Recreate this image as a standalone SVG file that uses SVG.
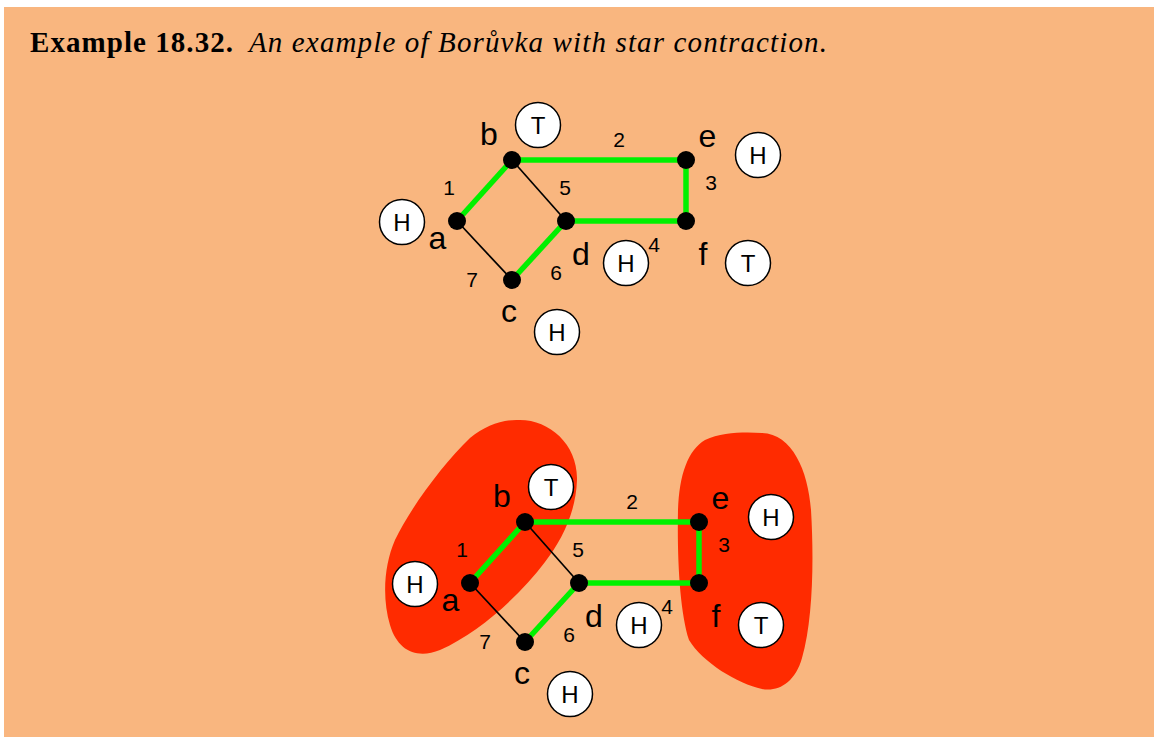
<svg xmlns="http://www.w3.org/2000/svg" width="1154" height="737" viewBox="0 0 1154 737">
<style>
.bg{fill:#f9b67f}
.title{font-family:"Liberation Serif","Times New Roman",serif;font-size:29px;fill:#000}
.green{stroke:#00f000;stroke-width:5.5;stroke-linecap:butt;fill:none}
.black{stroke:#000;stroke-width:1.7;fill:none}
.dot{fill:#000}
.nl{font-family:"Liberation Sans",Arial,sans-serif;font-size:32px;fill:#000;text-anchor:middle}
.el{font-family:"Liberation Sans",Arial,sans-serif;font-size:21px;fill:#000;text-anchor:middle}
.tag{fill:#fff;stroke:#000;stroke-width:1.5}
.tt{font-family:"Liberation Sans",Arial,sans-serif;font-size:24px;fill:#000;text-anchor:middle}
.blob{fill:#ff2b00}
</style>
<defs>
<g id="graph">
<g id="connectors">
<line class="green" x1="457" y1="221" x2="512" y2="160"/>
<line class="green" x1="512" y1="160" x2="686" y2="160"/>
<line class="green" x1="686" y1="160" x2="686" y2="221"/>
<line class="green" x1="566" y1="221" x2="686" y2="221"/>
<line class="green" x1="512" y1="280" x2="566" y2="221"/>
<line class="black" x1="512" y1="160" x2="566" y2="221"/>
<line class="black" x1="457" y1="221" x2="512" y2="280"/>
<text class="el" x="449" y="195">1</text>
<text class="el" x="619" y="147">2</text>
<text class="el" x="711" y="190">3</text>
<text class="el" x="654" y="252">4</text>
<text class="el" x="565" y="195">5</text>
<text class="el" x="556" y="280">6</text>
<text class="el" x="472" y="287">7</text>
</g>
<g id="node-a">
<circle class="dot" cx="457" cy="221" r="9"/>
<text class="nl" x="437.5" y="249">a</text>
<circle class="tag" cx="402" cy="222" r="22.5"/>
<text class="tt" x="402" y="230.5">H</text>
</g>
<g id="node-b">
<circle class="dot" cx="512" cy="160" r="9"/>
<text class="nl" x="489" y="145">b</text>
<circle class="tag" cx="538" cy="125" r="22.5"/>
<text class="tt" x="538" y="133.5">T</text>
</g>
<g id="node-c">
<circle class="dot" cx="512" cy="280" r="9"/>
<text class="nl" x="509" y="322">c</text>
<circle class="tag" cx="557" cy="332" r="22.5"/>
<text class="tt" x="557" y="340.5">H</text>
</g>
<g id="node-d">
<circle class="dot" cx="566" cy="221" r="9"/>
<text class="nl" x="581" y="265">d</text>
<circle class="tag" cx="626" cy="263" r="22.5"/>
<text class="tt" x="626" y="271.5">H</text>
</g>
<g id="node-e">
<circle class="dot" cx="686" cy="160" r="9"/>
<text class="nl" x="707.5" y="146.7">e</text>
<circle class="tag" cx="758" cy="155" r="22.5"/>
<text class="tt" x="758" y="163.5">H</text>
</g>
<g id="node-f">
<circle class="dot" cx="686" cy="221" r="9"/>
<text class="nl" x="703" y="265">f</text>
<circle class="tag" cx="748" cy="263" r="22.5"/>
<text class="tt" x="748" y="271.5">T</text>
</g>
</g>
</defs>
<rect class="bg" x="4" y="7" width="1150" height="730"/>
<text class="title" x="30" y="52"><tspan font-weight="bold" textLength="203" lengthAdjust="spacing">Example 18.32.</tspan><tspan x="249" font-style="italic" textLength="578" lengthAdjust="spacing">An example of Borůvka with star contraction.</tspan></text>
<g id="top-graph">
<use href="#graph"/>
</g>
<g id="bottom-graph">
<g id="blob-abc">
<path class="blob" d="M 520,420 C 550,420 578,445 577,480 C 576,512 562,540 545,562 C 520,595 480,632 440,650 C 418,659 398,652 390,625 C 382,598 384,565 395,540 C 412,505 445,462 470,438 C 486,425 503,419 520,420 Z"/>
</g>
<g id="blob-ef">
<path class="blob" d="M 762,433 C 792,434 808,470 811,510 C 814,560 813,620 802,658 C 795,683 778,692 762,689 C 738,684 702,662 689,640 C 680,612 677,560 678,510 C 679,475 688,450 705,440 C 722,432 745,432 762,433 Z"/>
</g>
<use href="#graph" transform="translate(13,362)"/>
</g>
</svg>
